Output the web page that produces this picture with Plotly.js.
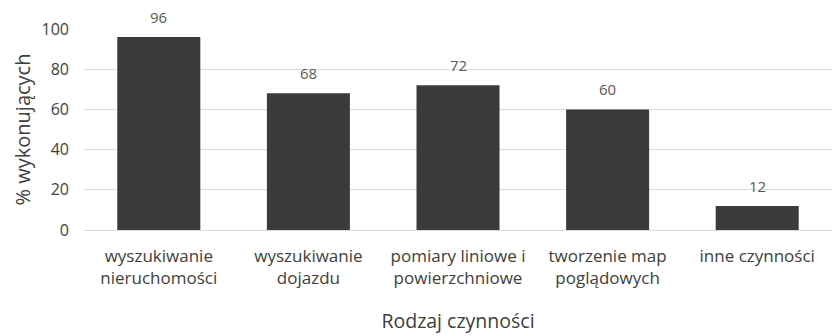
<!DOCTYPE html>
<html>
<head>
<meta charset="utf-8">
<script src="https://cdn.plot.ly/plotly-3.0.1.min.js"></script>
<style>
  html, body { margin: 0; padding: 0; background: #ffffff; }
  #chart { width: 834px; height: 336px; }
</style>
</head>
<body>
<div id="chart"></div>
<script>
// Categories of activities and share of respondents performing them
const categories = [
  'wyszukiwanie<br>nieruchomości',
  'wyszukiwanie<br>dojazdu',
  'pomiary liniowe i<br>powierzchniowe',
  'tworzenie map<br>poglądowych',
  'inne czynności'
];
const percentValues = [96, 68, 72, 60, 12];
const yTickValues = [0, 20, 40, 60, 80, 100];

const fontFamily = '"Open Sans", "Noto Sans", sans-serif';

const barTrace = {
  type: 'bar',
  x: categories,
  y: percentValues,
  marker: { color: '#3b3b3b', line: { width: 0 } },
  hoverinfo: 'skip'
};

// value labels above each bar
const valueLabels = categories.map((c, i) => ({
  x: c,
  y: percentValues[i],
  text: String(percentValues[i]),
  showarrow: false,
  yanchor: 'bottom',
  yshift: 8,
  font: { family: fontFamily, size: 15, color: '#595959' }
}));

const layout = {
  width: 834,
  height: 336,
  margin: { l: 84, r: 2, t: 29, b: 106 },
  paper_bgcolor: '#ffffff',
  plot_bgcolor: '#ffffff',
  showlegend: false,
  bargap: 0.445,
  font: { family: fontFamily, color: '#404040' },
  xaxis: {
    type: 'category',
    showgrid: false,
    zeroline: false,
    showline: false,
    ticks: '',
    tickfont: { family: fontFamily, size: 17, color: '#404040' },
    ticklabelstandoff: 14,
    title: {
      text: 'Rodzaj czynności',
      font: { family: fontFamily, size: 19.5, color: '#404040' },
      standoff: 26
    }
  },
  yaxis: {
    range: [0, 100],
    tickvals: yTickValues,
    ticktext: yTickValues.map(String),
    showgrid: true,
    gridcolor: '#dcdcdc',
    gridwidth: 1,
    zeroline: true,
    zerolinecolor: '#dcdcdc',
    zerolinewidth: 1,
    showline: false,
    ticks: '',
    tickfont: { family: fontFamily, size: 16, color: '#404040' },
    ticklabelstandoff: 14,
    title: {
      text: '% wykonujących',
      font: { family: fontFamily, size: 20, color: '#404040' },
      standoff: 5
    }
  },
  annotations: valueLabels
};

Plotly.newPlot('chart', [barTrace], layout, { displayModeBar: false, staticPlot: true });
</script>
</body>
</html>
